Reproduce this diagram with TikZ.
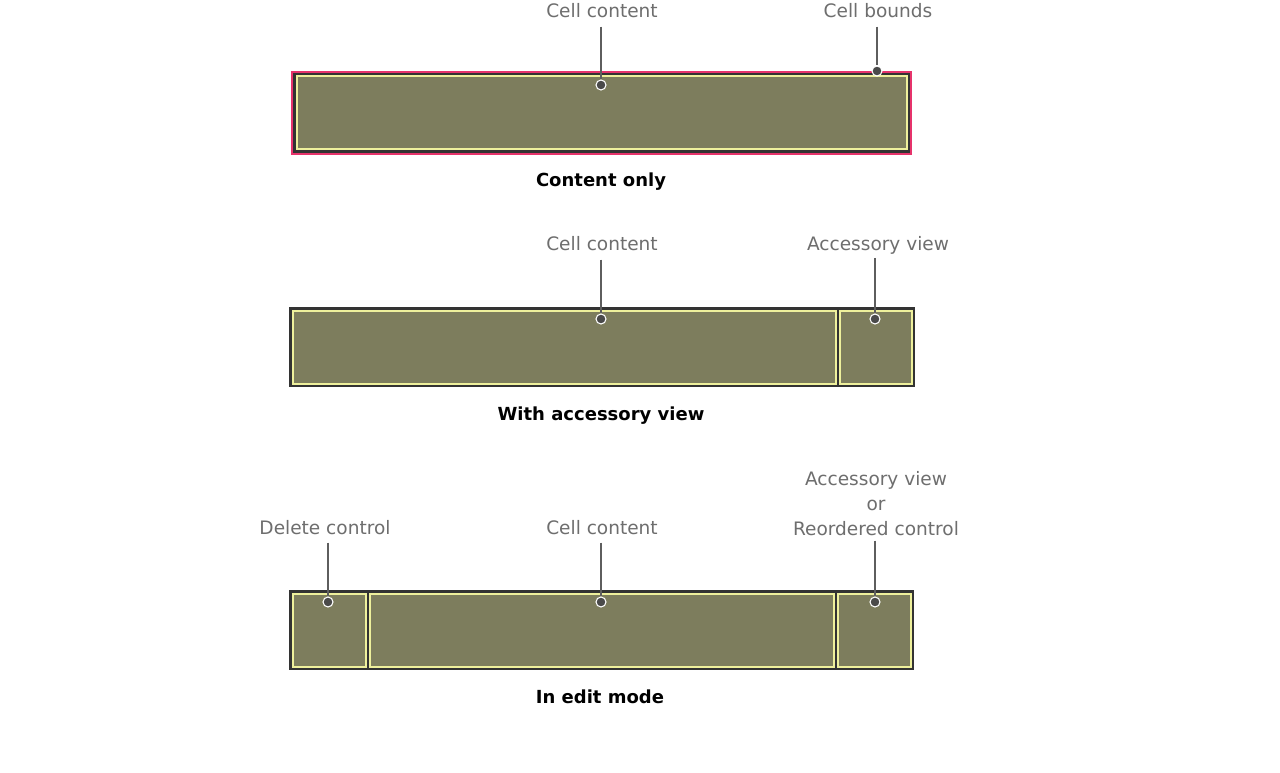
\documentclass[tikz,border=0pt]{standalone}
\usepackage{fontspec}
\setmainfont{DejaVu Sans}
\definecolor{olive}{HTML}{7D7D5D}
\definecolor{ylw}{HTML}{EEF09C}
\definecolor{dark}{HTML}{333333}
\definecolor{pinkb}{HTML}{E6336B}
\definecolor{lbl}{HTML}{6E6E6E}
\definecolor{lead}{HTML}{5E5E5E}
\definecolor{dotc}{HTML}{4A4A4A}
\tikzset{
  cellbox/.style={fill=olive, draw=ylw, line width=1.5pt},
  lab/.style={text=lbl, font=\fontsize{13.9}{18.8}\selectfont, anchor=base, inner sep=0pt, align=center},
  captxt/.style={text=black, font=\fontsize{13.5}{16}\selectfont\bfseries, anchor=base, inner sep=0pt},
  pin/.style={circle, fill=dotc, draw=white, line width=0.8pt, inner sep=0pt, minimum size=7.5pt},
  leader/.style={draw=lead, line width=1.5pt},
}
\begin{document}
\begin{tikzpicture}[x=0.75pt, y=-0.75pt]
\useasboundingbox[fill=white] (0,0) rectangle (1280,773);
% ---------- Bar 1 ----------
\fill[pinkb] (291,71) rectangle (912,155);
\fill[dark] (293,73) rectangle (910,153);
\draw[cellbox] (296.5,76.5) rectangle (906.5,149.5);
\node[lab] (l1a) at (602,18) {Cell content};
\node[lab] (l1b) at (878,18) {Cell bounds};
\node[pin] (d1a) at (601,85) {};
\node[pin] (d1b) at (877,71) {};
\draw[leader] ([yshift=-6pt]d1a |- l1a.south) -- (d1a);
\draw[leader] ([yshift=-6pt]d1b |- l1b.south) -- (d1b);
\node[captxt] (c1) at (601,187) {Content only};
% ---------- Bar 2 ----------
\fill[dark] (289,307) rectangle (915,387);
\draw[cellbox] (293,311.5) rectangle (835.5,383.5);
\draw[cellbox] (839.5,311.5) rectangle (911.5,383.5);
\node[lab] (l2a) at (602,251) {Cell content};
\node[lab] (l2b) at (878,251) {Accessory view};
\node[pin] (d2a) at (601,319) {};
\node[pin] (d2b) at (875,319) {};
\draw[leader] ([yshift=-6pt]d2a |- l2a.south) -- (d2a);
\draw[leader] ([yshift=-2pt]d2b |- l2b.south) -- (d2b);
\node[captxt] (c2) at (601,420) {With accessory view};
% ---------- Bar 3 ----------
\fill[dark] (289,590) rectangle (914,670);
\draw[cellbox] (293,594) rectangle (365.5,666.5);
\draw[cellbox] (369.5,594) rectangle (833.5,666.5);
\draw[cellbox] (837.5,594) rectangle (910.5,666.5);
\node[lab] (l3a) at (325,534) {Delete control};
\node[lab] (l3b) at (602,534) {Cell content};
\node[lab, anchor=south] (l3c) at (876,536.5) {Accessory view\\or\\Reordered control};
\node[pin] (d3a) at (328,602) {};
\node[pin] (d3b) at (601,602) {};
\node[pin] (d3c) at (875,602) {};
\draw[leader] ([yshift=-6pt]d3a |- l3a.south) -- (d3a);
\draw[leader] ([yshift=-6pt]d3b |- l3b.south) -- (d3b);
\draw[leader] ([yshift=-3pt]d3c |- l3c.south) -- (d3c);
\node[captxt] (c3) at (600,703) {In edit mode};
\end{tikzpicture}
\end{document}
